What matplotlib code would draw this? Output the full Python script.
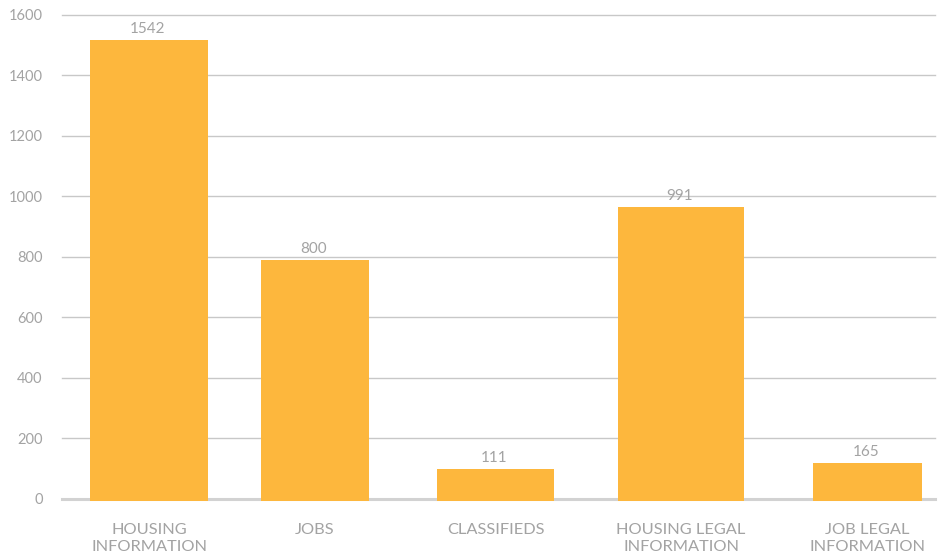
import matplotlib
matplotlib.use("Agg")
import matplotlib.pyplot as plt

categories = ["HOUSING\nINFORMATION", "JOBS", "CLASSIFIEDS",
              "HOUSING LEGAL\nINFORMATION", "JOB LEGAL\nINFORMATION"]
value_labels = [1542, 800, 111, 991, 165]
# bar heights as drawn in the picture (they sit a bit below the printed values)
bar_heights = [1517, 790, 99, 965, 119]
y_ticks = [0, 200, 400, 600, 800, 1000, 1200, 1400, 1600]

# layout, in pixel units along the x axis
bar_centers = [149, 315, 495.5, 681, 867.5]
bar_widths = [118, 108, 117, 126, 109]

BAR = "#FDB73D"
TXT = "#A3A3A3"
GRID = "#C8C8C8"

plt.rcParams["font.family"] = ["Lato", "DejaVu Sans"]

W, H = 938, 558
fig = plt.figure(figsize=(W / 100, H / 100), dpi=100)
left, right, top, bottom = 62, 935, 15, 502
ax = fig.add_axes([left / W, 1 - bottom / H, (right - left) / W, (bottom - top) / H])
ax.set_xlim(left, right)
ax.set_ylim(-10, 1600)

for y in y_ticks:
    if y == 0:
        ax.axhline(y, color="#D2D2D2", lw=2.2, zorder=1, clip_on=False)
    else:
        ax.axhline(y, color=GRID, lw=1.0, zorder=1, clip_on=False)

ax.bar(bar_centers, [h + 8 for h in bar_heights], width=bar_widths, bottom=-8,
       color=BAR, zorder=2)

for x, h, v in zip(bar_centers, bar_heights, value_labels):
    ax.annotate(str(v), (x, h), xytext=(-1, 3), textcoords="offset points",
                ha="center", va="bottom", fontsize=11, color=TXT)

ax.set_yticks(y_ticks)
ax.set_yticklabels([str(t) for t in y_ticks])
ax.set_xticks(bar_centers)
ax.set_xticklabels(categories, linespacing=1.25)
ax.tick_params(axis="y", length=0, pad=14, labelsize=10.5, labelcolor=TXT)
ax.tick_params(axis="x", length=0, pad=15, labelsize=11.8, labelcolor=TXT)
for s in ax.spines.values():
    s.set_visible(False)

fig.savefig("out.png", dpi=100)
